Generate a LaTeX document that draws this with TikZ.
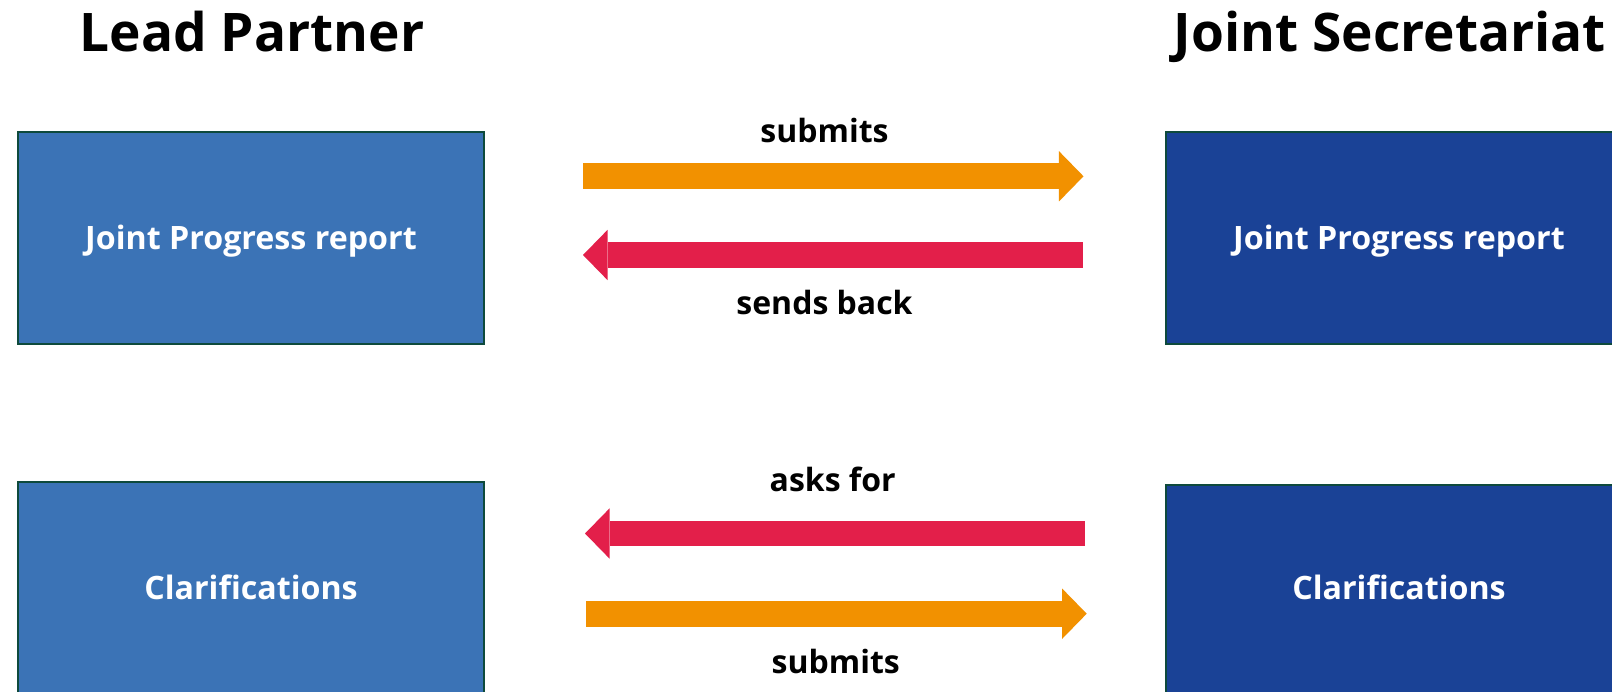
\documentclass[tikz,border=0pt]{standalone}
\usepackage{fontspec}
\setmainfont{Open Sans}
\usetikzlibrary{arrows.meta}

\definecolor{lpblue}{HTML}{3B73B6}
\definecolor{jsblue}{HTML}{1A4296}
\definecolor{boxline}{HTML}{0E4A3C}
\definecolor{sendorange}{HTML}{F29100}
\definecolor{returnred}{HTML}{E31F4A}

\tikzset{
  title/.style={anchor=base, inner sep=0pt, font=\fontsize{53.2pt}{60pt}\selectfont\bfseries},
  docbox/.style={draw=boxline, line width=2pt, minimum width=466pt, minimum height=212pt,
    inner sep=0pt, text=white, text height=22.8pt, text depth=0pt,
    font=\fontsize{32.2pt}{38pt}\selectfont\bfseries},
  lpbox/.style={docbox, fill=lpblue},
  jsbox/.style={docbox, fill=jsblue},
  verb/.style={anchor=base, inner sep=0pt, font=\fontsize{32pt}{38pt}\selectfont\bfseries},
  flow/.style={line width=25.7pt, line cap=butt,
    -{Triangle[length=24.6pt,width=50.4pt,line width=0pt]}},
  sendflow/.style={flow, draw=sendorange, color=sendorange},
  returnflow/.style={flow, draw=returnred, color=returnred}
}

\begin{document}
\begin{tikzpicture}[x=1pt, y=-1pt]
  \path[use as bounding box, clip] (0,0) rectangle (1612,692);
  \fill[white] (0,0) rectangle (1612,692);

  % column headings
  \node[title] (hlp) at (252,51.4) {Lead Partner};
  \node[title] (hjs) at (1390,51.4) {Joint Secretariat};

  % documents on both sides
  \node[lpbox] (lpreport) at (251,238) {Joint Progress report};
  \node[jsbox] (jsreport) at (1399,238) {Joint Progress report};
  \node[lpbox] (lpclar) at (251,587.7) {Clarifications};
  \node[jsbox, text depth=6pt] (jsclar) at (1399,591) {Clarifications};

  % arrow end points
  \coordinate (a1s) at (583,176.3);
  \coordinate (a1e) at (1083.5,176.3);
  \coordinate (a2s) at (1082.5,255);
  \coordinate (a2e) at (583,255);
  \coordinate (a3s) at (1084.5,533.5);
  \coordinate (a3e) at (585,533.5);
  \coordinate (a4s) at (586,613.7);
  \coordinate (a4e) at (1086.7,613.7);

  % exchanges
  \draw[sendflow] (a1s) -- (a1e);
  \draw[returnflow] (a2s) -- (a2e);
  \draw[returnflow] (a3s) -- (a3e);
  \draw[sendflow] (a4s) -- (a4e);

  % labels of the exchanges
  \node[verb] (l1) at (824.5,143) {submits};
  \node[verb] (l2) at (824.5,314.6) {sends back};
  \node[verb] (l3) at (832.7,491.4) {asks for};
  \node[verb] (l4) at (835.8,673) {submits};
\end{tikzpicture}
\end{document}
